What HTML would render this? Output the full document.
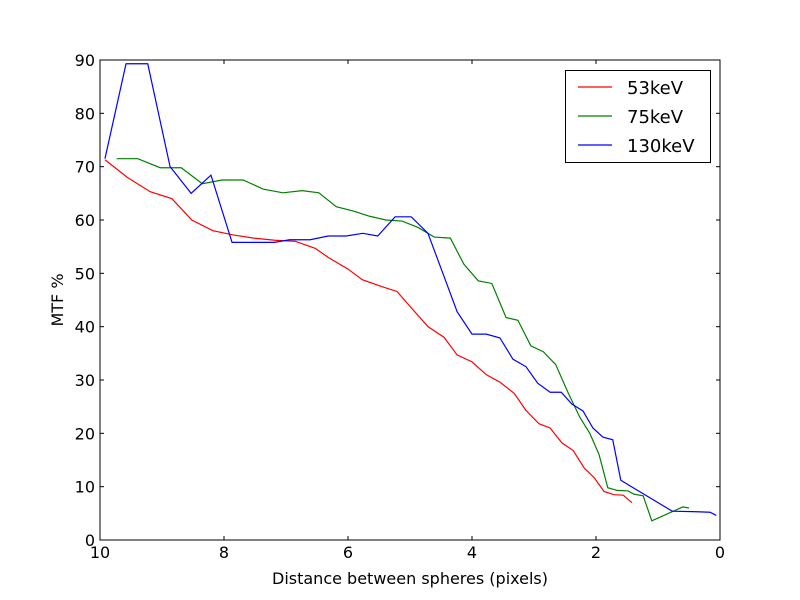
<!DOCTYPE html>
<html><head><meta charset="utf-8"><style>
body{margin:0;background:#fff;}
svg{display:block;font-family:"DejaVu Sans","Liberation Sans",sans-serif;}
</style></head><body>
<svg id="chart" width="800" height="600">
<rect width="800" height="600" fill="#fff"/>
<g id="plot"></g>
</svg>
<script>
const redX=[9.92,9.56,9.19,8.84,8.52,8.18,7.85,7.52,7.18,6.85,6.53,6.32,6.0,5.77,5.45,5.21,5.0,4.71,4.45,4.24,4.0,3.77,3.55,3.32,3.13,2.92,2.74,2.55,2.37,2.19,2.03,1.87,1.71,1.56,1.42];
const redY=[71.3,68,65.3,64,60,58,57.2,56.6,56.2,56,54.7,53,50.8,48.8,47.5,46.6,43.8,40,38,34.7,33.4,31,29.6,27.5,24.3,21.8,21,18.2,16.8,13.5,11.7,9.1,8.5,8.4,7];
const greenX=[9.73,9.39,9.03,8.69,8.35,8.03,7.69,7.37,7.05,6.74,6.47,6.19,5.92,5.65,5.39,5.13,4.87,4.61,4.35,4.13,3.9,3.68,3.45,3.26,3.05,2.85,2.65,2.45,2.26,2.1,1.95,1.81,1.66,1.48,1.39,1.24,1.1,0.6,0.5];
const greenY=[71.5,71.5,69.8,69.8,66.8,67.5,67.5,65.8,65.1,65.5,65.1,62.5,61.7,60.7,60,59.8,58.6,56.8,56.6,51.7,48.6,48.1,41.7,41.2,36.4,35.3,32.9,27.6,23,20,16,9.8,9.3,9.2,8.6,8.3,3.6,6.2,6];
const blueX=[9.92,9.58,9.23,8.87,8.53,8.21,7.87,7.53,7.19,6.94,6.61,6.32,6.03,5.76,5.52,5.24,4.98,4.71,4.47,4.24,4.0,3.77,3.55,3.34,3.13,2.94,2.74,2.56,2.39,2.21,2.05,1.89,1.73,1.6,0.77,0.37,0.16,0.06];
const blueY=[71.5,89.3,89.3,70,65,68.4,55.8,55.8,55.8,56.3,56.3,57,57,57.5,57,60.6,60.6,57.5,50,42.8,38.6,38.6,37.9,33.9,32.5,29.4,27.7,27.7,25.5,24.2,21,19.3,18.8,11.2,5.4,5.3,5.2,4.6];
const xTicks=[10,8,6,4,2,0];
const yTicks=[0,10,20,30,40,50,60,70,80,90];
const seriesNames=["53keV","75keV","130keV"];

const L=100,R=720,T=60,B=540;
const sx=v=>L+(10-v)/10*(R-L);
const sy=v=>B-v/90*(B-T);
const NS="http://www.w3.org/2000/svg";
const g=document.getElementById('plot');
function mk(tag,attrs,parent){const e=document.createElementNS(NS,tag);for(const k in attrs)e.setAttribute(k,attrs[k]);(parent||g).appendChild(e);return e;}

function drawLine(xs,ys,color,name){
  const p=mk('polyline',{points:xs.map((x,i)=>sx(x)+','+sy(ys[i])).join(' '),fill:'none',stroke:color,'stroke-width':1.2});
  
  
}
drawLine(redX,redY,'#ff0000','series-53kev');
drawLine(greenX,greenY,'#008000','series-75kev');
drawLine(blueX,blueY,'#0000ff','series-130kev');

const frame=mk('rect',{x:L,y:T,width:R-L,height:B-T,fill:'none',stroke:'#000','stroke-width':1});



xTicks.forEach(v=>{
  const x=sx(v);
  mk('line',{x1:x,y1:B,x2:x,y2:B-4,stroke:'#000'});
  mk('line',{x1:x,y1:T,x2:x,y2:T+4,stroke:'#000'});
  const t=mk('text',{x:x,y:B+18,'text-anchor':'middle','font-size':16});
  t.textContent=v;
  
  
});
yTicks.forEach(v=>{
  const y=sy(v);
  mk('line',{x1:L,y1:y,x2:L+4,y2:y,stroke:'#000'});
  mk('line',{x1:R,y1:y,x2:R-4,y2:y,stroke:'#000'});
  const t=mk('text',{x:L-5,y:y+6,'text-anchor':'end','font-size':16});
  t.textContent=v;
  
  
});
const xt=mk('text',{x:410,y:584,'text-anchor':'middle','font-size':16});
xt.textContent='Distance between spheres (pixels)';


const yt=mk('text',{x:63,y:300,'text-anchor':'middle','font-size':16,transform:'rotate(-90 63 300)'});
yt.textContent='MTF %';



const lg=mk('g',{});


mk('rect',{x:565.5,y:70.5,width:145,height:92,fill:'#fff',stroke:'#000'},lg);
const colors=['#ff0000','#008000','#0000ff'];
seriesNames.forEach((n,i)=>{
  const y=87+i*29;
  const e=mk('g',{},lg);
  
  
  mk('line',{x1:578,y1:y,x2:612,y2:y,stroke:colors[i],'stroke-width':1.2},e);
  const t=mk('text',{x:627,y:y+7,'font-size':18},e);
  t.textContent=n;
});
</script>
</body></html>
